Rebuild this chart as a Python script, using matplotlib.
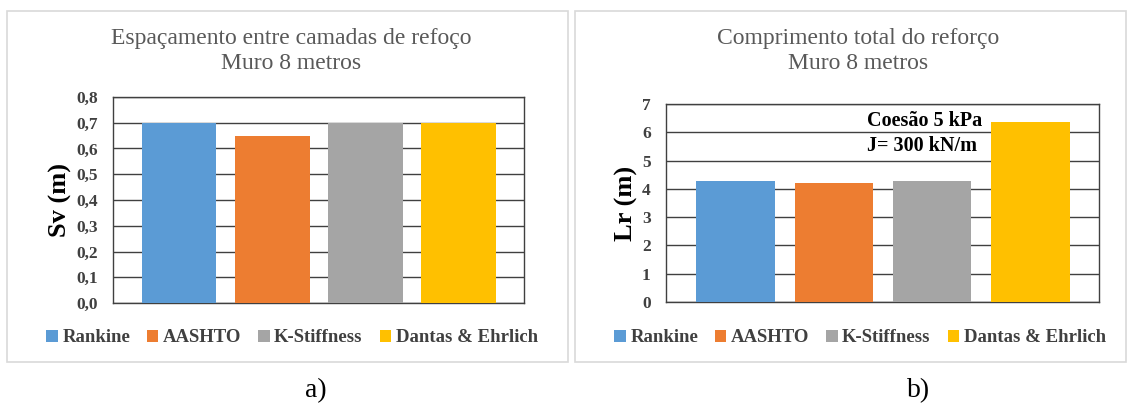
import numpy as np
import matplotlib
matplotlib.use("Agg")
import matplotlib.pyplot as plt
from matplotlib.patches import Rectangle, Patch

plt.rcParams['font.family'] = ['Liberation Serif', 'DejaVu Serif']

methods = ["Rankine", "AASHTO", "K-Stiffness", "Dantas & Ehrlich"]
colors = ["#5B9BD5", "#ED7D31", "#A5A5A5", "#FFC000"]

sv_values = [0.70, 0.65, 0.70, 0.70]
sv_ticks = np.arange(0, 0.81, 0.1)
lr_values = [4.28, 4.22, 4.28, 6.37]
lr_ticks = np.arange(0, 8, 1)

title_a = "Espaçamento entre camadas de refoço\nMuro 8 metros"
title_b = "Comprimento total do reforço\nMuro 8 metros"
note_b = "Coesão 5 kPa\nJ= 300 kN/m"

W, H = 1131, 405
fig = plt.figure(figsize=(W / 100, H / 100), dpi=100)


def fx(px):
    return px / W


def fy(py):
    return 1 - py / H


# light frames around each chart
for x0, x1 in [(7, 568), (575, 1126)]:
    fig.patches.append(Rectangle((fx(x0), fy(362)), fx(x1 - x0), (362 - 11) / H,
                                 transform=fig.transFigure, fill=False,
                                 edgecolor="#d9d9d9", lw=1.2))


def draw_panel(ax, values, ticks, fmt, ylabel):
    x = np.arange(len(values))
    ax.bar(x, values, width=0.8, color=colors, zorder=3)
    ax.set_xlim(-0.71, len(values) - 0.30)
    ax.set_ylim(ticks[0], ticks[-1])
    ax.set_yticks(ticks)
    ax.set_yticklabels([fmt(t) for t in ticks], fontweight="bold",
                       fontsize=12.5, color="#404040")
    ax.set_xticks([])
    ax.tick_params(axis="y", length=0, pad=11)
    ax.grid(axis="y", color="#404040", lw=1, zorder=0)
    for s in ax.spines.values():
        s.set_color("#404040")
        s.set_linewidth(1)
    ax.set_ylabel(ylabel, fontsize=19, fontweight="bold", labelpad=3)


ax1 = fig.add_axes([fx(113), fy(303), fx(524 - 113), (303 - 97) / H])
draw_panel(ax1, sv_values, sv_ticks, lambda t: f"{t:.1f}".replace(".", ","),
           "Sv (m)")
ax2 = fig.add_axes([fx(666), fy(302), fx(1099 - 666), (302 - 104) / H])
draw_panel(ax2, lr_values, lr_ticks, lambda t: f"{t:d}", "Lr (m)")

fig.text(fx(291), fy(51), title_a, ha="center", va="center", fontsize=17,
         color="#595959", linespacing=1.22)
fig.text(fx(858), fy(51), title_b, ha="center", va="center", fontsize=17,
         color="#595959", linespacing=1.22)

ax2.text(1.34, 5.95, note_b, ha="left", va="center", fontsize=14.5,
         fontweight="bold", linespacing=1.35, zorder=4)

handles = [Patch(facecolor=c, edgecolor="none") for c in colors]
for cx in (292, 860):
    fig.legend(handles, methods, loc="center", bbox_to_anchor=(fx(cx), fy(338)),
               ncol=4, frameon=False, handlelength=0.6, handleheight=0.6,
               handletextpad=0.25, columnspacing=0.9,
               prop={"weight": "bold", "size": 13.5}, labelcolor="#404040")

fig.text(fx(316), fy(391), "a)", ha="center", va="center", fontsize=20)
fig.text(fx(919), fy(391), "b)", ha="center", va="center", fontsize=20)

fig.savefig("out.png", dpi=100, facecolor="white")
